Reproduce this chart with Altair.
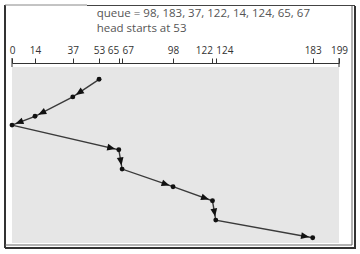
import math
import altair as alt
import pandas as pd

# ---- data ----
cylinders = [53, 37, 14, 0, 65, 67, 98, 122, 124, 183]      # service order (SCAN)
times = [0, 1.0, 2.1, 2.6, 4.0, 5.1, 6.1, 6.9, 8.0, 9.0]      # vertical (time) position
tick_values = [0, 14, 37, 53, 65, 67, 98, 122, 124, 183, 199]
end_ticks = [0, 199]
queue_text = "queue = 98, 183, 37, 122, 14, 124, 65, 67"
head_text = "head starts at 53"

W, H = 327, 176
XDOM = [0, 199]
YDOM = [-0.7, 9.3]

path = pd.DataFrame({"cyl": cylinders, "t": times, "step": list(range(len(cylinders)))})

# arrowheads at the end of each segment, rotated along the segment direction
px_x = W / (XDOM[1] - XDOM[0])
px_y = H / (YDOM[1] - YDOM[0])
rows = []
for i in range(1, len(cylinders)):
    dx = (cylinders[i] - cylinders[i - 1]) * px_x
    dy = (times[i] - times[i - 1]) * px_y
    ang = math.degrees(math.atan2(dy, dx)) % 360
    rows.append({"cyl": cylinders[i], "t": times[i], "angle": ang})
arrows = pd.DataFrame(rows)
ends = pd.DataFrame({"cyl": end_ticks})
one = pd.DataFrame({"k": [0]})

xscale = alt.Scale(domain=XDOM, nice=False, zero=False)
yscale = alt.Scale(domain=YDOM, nice=False, zero=False, reverse=True)

axis = alt.Axis(
    orient="top", values=tick_values, offset=4, tickSize=5, labelPadding=3,
    labelFontSize=10, labelFont="Open Sans", labelColor="#333",
    domainColor="#333", tickColor="#333", grid=False, title=None,
    labelOverlap=False, labelFlush=False, format="d", tickCount=len(tick_values),
    labelAlign={"condition": [
        {"test": "datum.value == 65 || datum.value == 122", "value": "right"},
        {"test": "datum.value == 67 || datum.value == 124", "value": "left"}],
        "value": "center"},
)

def X():
    return alt.X("cyl:Q", scale=xscale, axis=axis)

def Y():
    return alt.Y("t:Q", scale=yscale, axis=None)

line = alt.Chart(path).mark_line(color="#3a3a3a", strokeWidth=1.4).encode(
    x=X(), y=Y(), order=alt.Order("step:Q"),
)
dots = alt.Chart(path).mark_point(filled=True, color="#111", size=24, opacity=1, shape="circle").encode(
    x=X(), y=Y(),
)
heads = alt.Chart(arrows).mark_point(
    filled=True, color="#111", size=81, opacity=1,
    shape="M -2.6 -0.75 L -0.8 0 L -2.6 0.75 Z",
).encode(
    x=X(), y=Y(),
    angle=alt.Angle("angle:Q", scale=None),
)
endrules = alt.Chart(ends).mark_rule(color="#333", strokeWidth=1).encode(
    x=X(), y=alt.value(-9), y2=alt.value(0),
)

t1 = alt.Chart(one).mark_text(align="left", baseline="alphabetic", font="Open Sans",
                              fontSize=11.5, color="#555", text=queue_text).encode(
    x=alt.value(84.7), y=alt.value(-50))
t2 = alt.Chart(one).mark_text(align="left", baseline="alphabetic", font="Open Sans",
                              fontSize=11.5, color="#555", text=head_text).encode(
    x=alt.value(84.7), y=alt.value(-35.5))

def seg(x1, x2, y1, y2, color, w):
    return alt.Chart(one).mark_rule(color=color, strokeWidth=w).encode(
        x=alt.value(x1), x2=alt.value(x2), y=alt.value(y1), y2=alt.value(y2))

frame = [
    seg(-7, -7, -62, 181, "#333", 2),        # left
    seg(-7, 75, -62, -62, "#888", 1),        # top (left part)
    seg(75, 343, -61.5, -61.5, "#444", 1.2), # top (right part)
    seg(340, 340, -61, 178, "#666", 1),      # right inner
    seg(343, 343, -61, 181, "#333", 2),      # right outer
    seg(-7, 340, 178, 178, "#666", 1),       # bottom inner
    seg(-7, 344, 181, 181, "#333", 2),       # bottom outer
]

chart = alt.layer(line, heads, dots, endrules, t1, t2, *frame).properties(
    width=W, height=H,
    autosize="none",
    padding={"left": 12, "top": 67, "right": 21, "bottom": 11},
    background="white",
).configure_view(fill="#e6e6e6", stroke=None).configure_axis(labelOverlap=False)

chart.save("out.html", embed_options={"renderer": "svg", "actions": False})
